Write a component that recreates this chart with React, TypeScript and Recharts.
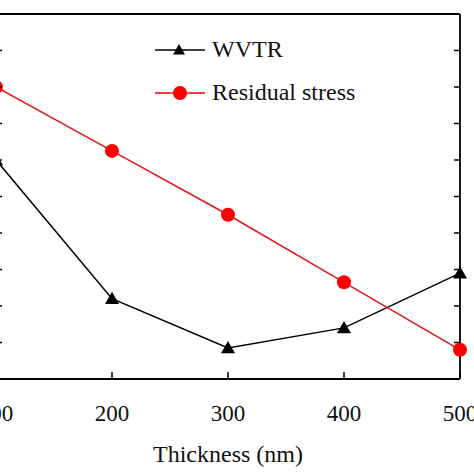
import { LineChart, Line, XAxis, YAxis, Legend } from "recharts";

const thickness = [100, 200, 300, 400, 500];
const wvtr = [6.0, 2.2, 0.85, 1.4, 2.9];
const residualStress = [8.0, 6.25, 4.5, 2.65, 0.8];
const xTicks = [100, 200, 300, 400, 500];
const yTicks = [0, 1, 2, 3, 4, 5, 6, 7, 8, 9, 10];

const data = thickness.map((t, i) => ({
  thickness: t,
  wvtr: wvtr[i],
  stress: residualStress[i],
}));

const FONT = "'Liberation Serif', 'Times New Roman', serif";
const RED = "#ff0000";

function Triangle({ cx, cy, size = 7 }: { cx: number; cy: number; size?: number }) {
  return (
    <path
      d={`M${cx},${cy - size} L${cx - size},${cy + size * 0.75} L${cx + size},${cy + size * 0.75} Z`}
      fill="#000"
    />
  );
}

// bottom ticks: inward tick mark + label below the axis
function XTick(props: any) {
  const { x, y, payload } = props;
  return (
    <g>
      <line x1={x} y1={y} x2={x} y2={y - 7} stroke="#000" strokeWidth={1.5} />
      <text x={x} y={y + 42} textAnchor="middle" fontFamily={FONT} fontSize={23} fill="#111">
        {payload.value}
      </text>
    </g>
  );
}

// y ticks: inward marks only, labels fall outside the crop
const LeftTick = (props: any) => (
  <line x1={props.x} y1={props.y} x2={props.x + 6} y2={props.y} stroke="#000" strokeWidth={1.5} />
);
const RightTick = (props: any) => (
  <line x1={props.x} y1={props.y} x2={props.x - 6} y2={props.y} stroke="#000" strokeWidth={1.5} />
);

function LegendBox() {
  const rows = [
    { name: "WVTR", color: "#000", mark: "tri" },
    { name: "Residual stress", color: RED, mark: "dot" },
  ];
  return (
    <div style={{ fontFamily: FONT, fontSize: 24, color: "#111" }}>
      {rows.map((r) => (
        <div key={r.name} style={{ display: "flex", alignItems: "center", height: 43 }}>
          <svg width={55} height={20} style={{ marginRight: 2 }}>
            <line x1={0} y1={10} x2={50} y2={10} stroke={r.color} strokeWidth={1.5} />
            {r.mark === "tri" ? (
              <Triangle cx={24} cy={10} size={6} />
            ) : (
              <circle cx={25} cy={10} r={7} fill={RED} />
            )}
          </svg>
          <span>{r.name}</span>
        </div>
      ))}
    </div>
  );
}

export default function App() {
  return (
    <div style={{ position: "absolute", left: -20, top: 0, width: 494, height: 474, background: "#fff" }}>
      <LineChart
        width={494}
        height={474}
        data={data}
        margin={{ top: 13, right: 13, bottom: 0, left: 15 }}
      >
        <XAxis
          dataKey="thickness"
          type="number"
          domain={[100, 500]}
          ticks={xTicks}
          height={95}
          tickSize={0}
          tickMargin={0}
          tickLine={false}
          tick={<XTick />}
          axisLine={{ stroke: "#000", strokeWidth: 1.8 }}
          label={{
            value: "Thickness (nm)",
            position: "insideBottom",
            offset: 12,
            style: { fontFamily: FONT, fontSize: 24, fill: "#111" },
          }}
        />
        <XAxis
          xAxisId="top"
          orientation="top"
          dataKey="thickness"
          type="number"
          domain={[100, 500]}
          height={1}
          tick={false}
          tickLine={false}
          axisLine={{ stroke: "#000", strokeWidth: 1.8 }}
        />
        <YAxis
          yAxisId="left"
          domain={[0, 10]}
          ticks={yTicks}
          width={1}
          tickSize={0}
          tickMargin={0}
          tickLine={false}
          tick={<LeftTick />}
          axisLine={{ stroke: "#000", strokeWidth: 1.8 }}
        />
        <YAxis
          yAxisId="right"
          orientation="right"
          domain={[0, 10]}
          ticks={yTicks}
          width={1}
          tickSize={0}
          tickMargin={0}
          tickLine={false}
          tick={<RightTick />}
          axisLine={{ stroke: "#000", strokeWidth: 1.8 }}
        />
        <Legend
          content={<LegendBox />}
          wrapperStyle={{ left: 175, top: 28, width: 260, height: 0, overflow: "visible" }}
        />
        <Line
          yAxisId="left"
          dataKey="wvtr"
          name="WVTR"
          stroke="#000"
          strokeWidth={1.5}
          isAnimationActive={false}
          dot={(p: any) => <Triangle key={p.index} cx={p.cx} cy={p.cy} />}
        />
        <Line
          yAxisId="right"
          dataKey="stress"
          name="Residual stress"
          stroke="#e3141b"
          strokeWidth={1.5}
          isAnimationActive={false}
          dot={{ r: 7, fill: RED, stroke: RED, strokeWidth: 0 }}
        />
      </LineChart>
    </div>
  );
}
